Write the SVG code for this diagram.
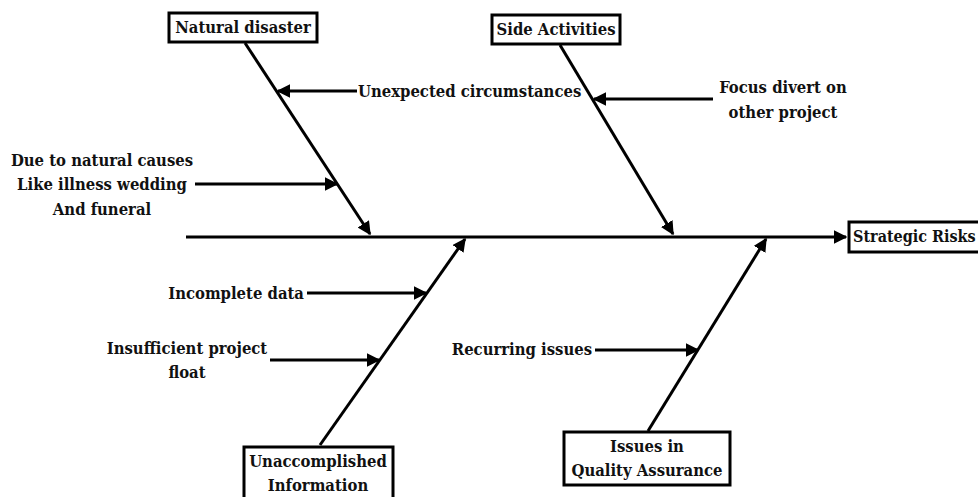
<svg xmlns="http://www.w3.org/2000/svg" width="978" height="497" viewBox="0 0 978 497">
<style>
text{font-family:"DejaVu Serif",serif;font-stretch:condensed;font-weight:700;font-size:16.5px;fill:#111}
.box{fill:#fff;stroke:#000;stroke-width:3}
.ln{stroke:#000;stroke-width:3;fill:none;marker-end:url(#ah)}
</style>
<defs>
<marker id="ah" viewBox="0 0 10 10" refX="9" refY="5" markerWidth="4.5" markerHeight="4.5" orient="auto" markerUnits="strokeWidth">
<path d="M0,0 L10,5 L0,10 z" fill="#000"/>
</marker>
</defs>
<rect width="978" height="497" fill="#fff"/>
<g id="connectors">
<line class="ln" x1="186" y1="237" x2="846" y2="237"/>
<line class="ln" x1="245" y1="43" x2="370" y2="234"/>
<line class="ln" x1="560" y1="45" x2="673" y2="234"/>
<line class="ln" x1="320" y1="445" x2="465" y2="239"/>
<line class="ln" x1="648" y1="431" x2="766" y2="239"/>
<line class="ln" x1="357" y1="91" x2="278" y2="91"/>
<line class="ln" x1="713" y1="99" x2="594" y2="99"/>
<line class="ln" x1="195" y1="184" x2="337" y2="184"/>
<line class="ln" x1="307" y1="293" x2="426" y2="293"/>
<line class="ln" x1="270" y1="360" x2="379" y2="360"/>
<line class="ln" x1="595" y1="350" x2="698" y2="350"/>
</g>
<g id="natural-disaster">
<rect class="box" x="169" y="13" width="148" height="29"/>
<text x="243" y="33" text-anchor="middle">Natural disaster</text>
</g>
<g id="side-activities">
<rect class="box" x="492" y="15" width="128" height="29"/>
<text x="556" y="35" text-anchor="middle">Side Activities</text>
</g>
<g id="strategic-risks">
<rect class="box" x="849" y="222" width="140" height="30"/>
<text x="853" y="242" style="font-size:16px">Strategic Risks</text>
</g>
<g id="unaccomplished-information">
<rect class="box" x="244" y="447" width="149" height="60"/>
<text x="318" y="467" text-anchor="middle">Unaccomplished</text>
<text x="318" y="491" text-anchor="middle">Information</text>
</g>
<g id="quality-assurance">
<rect class="box" x="564" y="432" width="166" height="53"/>
<text x="647" y="452" text-anchor="middle">Issues in</text>
<text x="647" y="476" text-anchor="middle">Quality Assurance</text>
</g>
<g id="unexpected-circumstances">
<text x="358" y="97">Unexpected circumstances</text>
</g>
<g id="focus-divert">
<text x="783" y="93" text-anchor="middle">Focus divert on</text>
<text x="783" y="118" text-anchor="middle">other project</text>
</g>
<g id="natural-causes">
<text x="102" y="166" text-anchor="middle">Due to natural causes</text>
<text x="102" y="190" text-anchor="middle">Like illness wedding</text>
<text x="102" y="215" text-anchor="middle">And funeral</text>
</g>
<g id="incomplete-data">
<text x="304" y="299" text-anchor="end">Incomplete data</text>
</g>
<g id="insufficient-float">
<text x="187" y="354" text-anchor="middle">Insufficient project</text>
<text x="187" y="378" text-anchor="middle">float</text>
</g>
<g id="recurring-issues">
<text x="592" y="355" text-anchor="end">Recurring issues</text>
</g>
</svg>
